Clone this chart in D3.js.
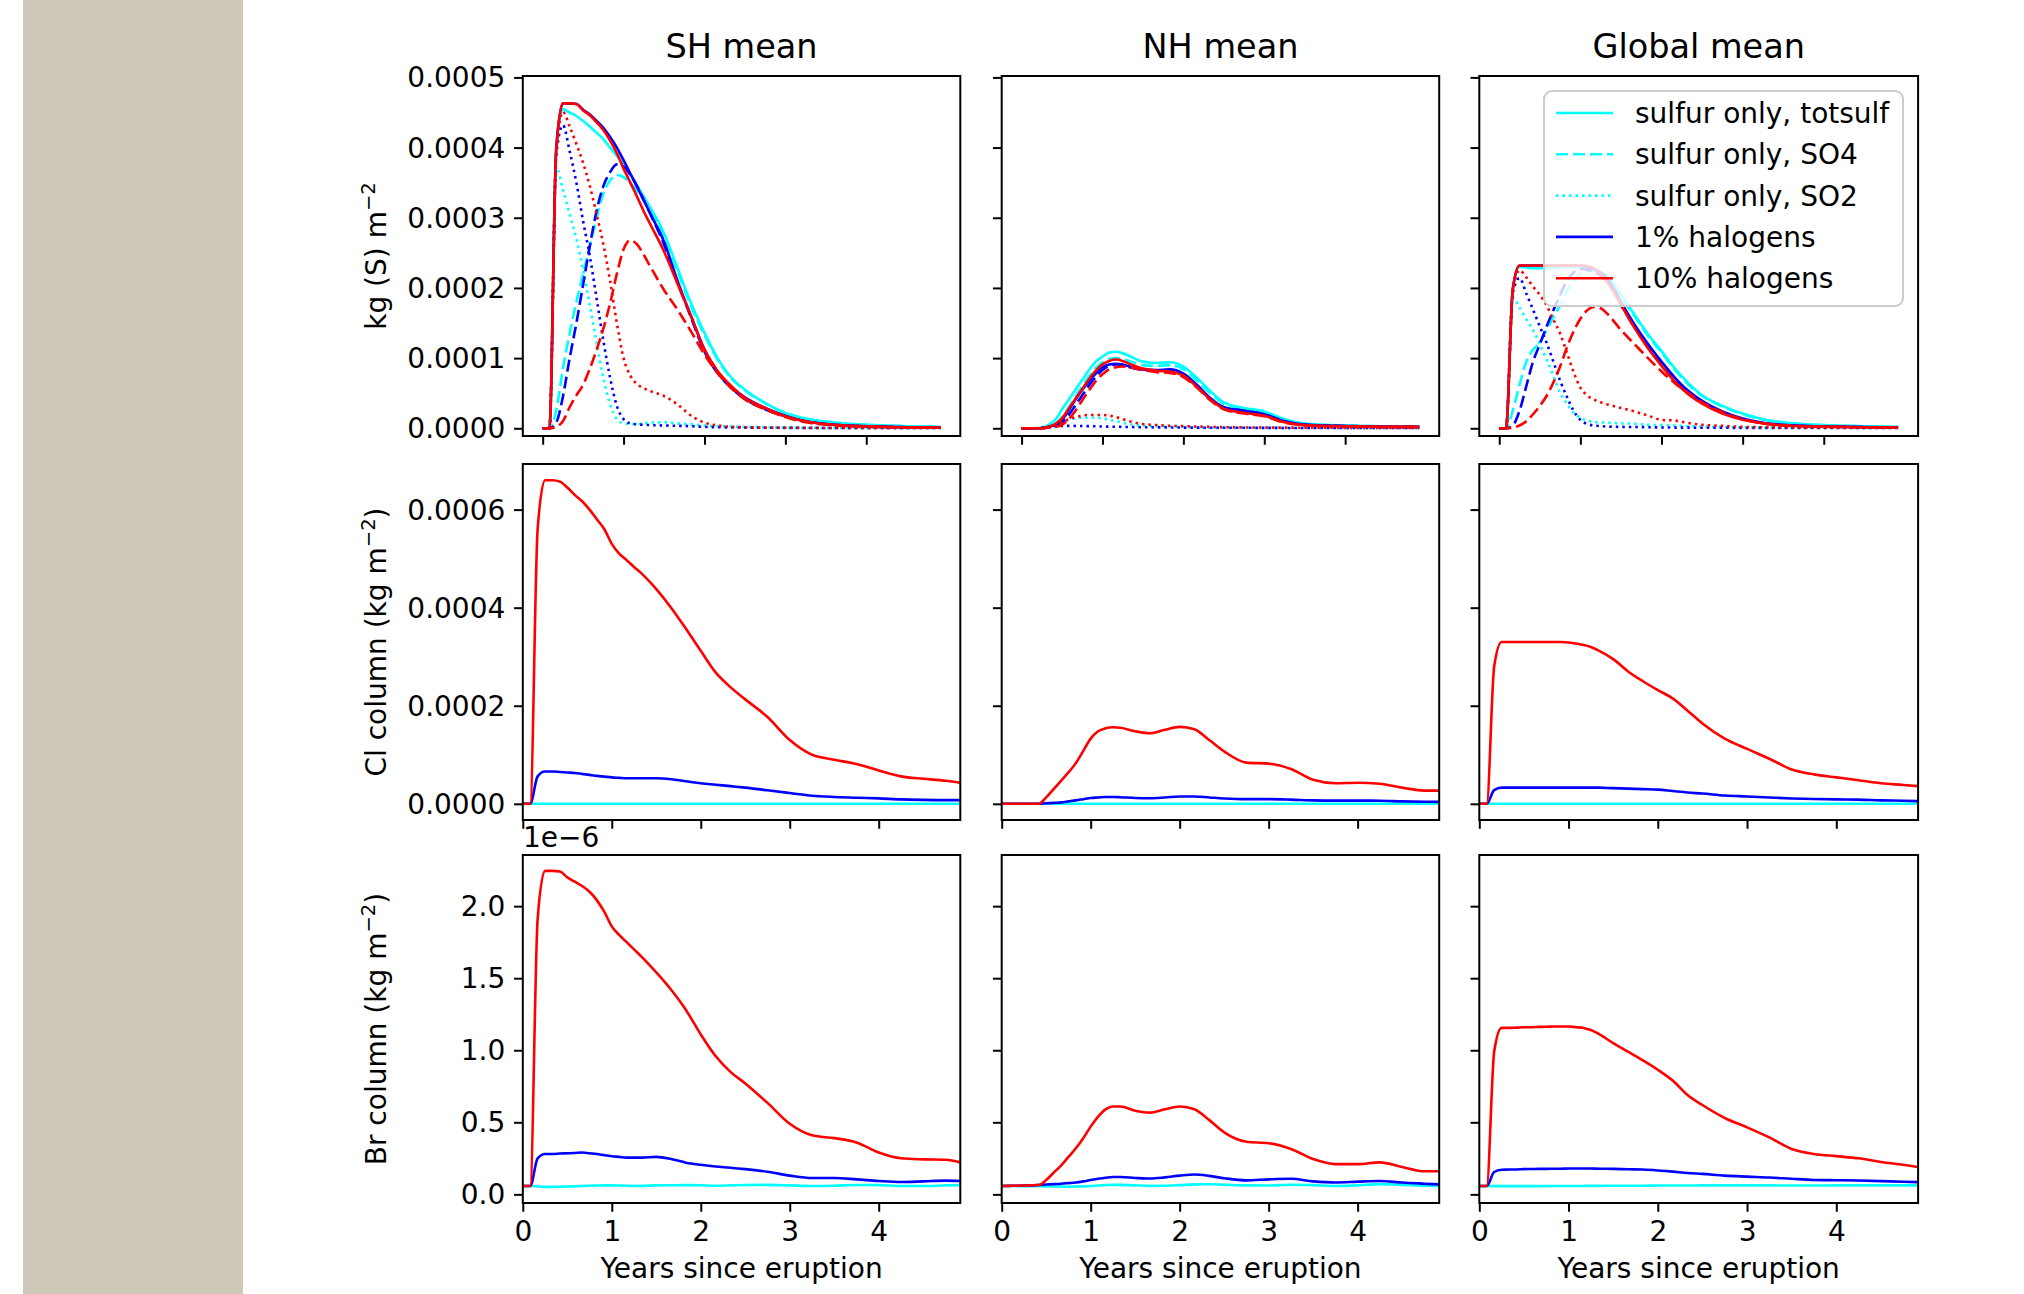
<!DOCTYPE html>
<html>
<head>
<meta charset="utf-8">
<script src="https://cdn.jsdelivr.net/npm/d3@7"></script>
<style>
  body { margin: 0; background: #fff; }
  text { font-family: "DejaVu Sans", sans-serif; fill: #000; }
</style>
</head>
<body>
<svg id="chart" width="2024" height="1294"></svg>
<script>
const MONTHS = [0,1,2,3,4,5,6,7,8,9,10,11,12,13,14,15,16,18,20,22,24,26,28,30,33,36,39,42,45,48,51,54,57,59];

// ---- row 1: sulfur burden, units of 1e-4 kg(S) m^-2 ----
// suffix 0 = sulfur only, 1 = 1% halogens, 10 = 10% halogens
const shTot0  = [0,0,3.95,4.55,4.50,4.45,4.38,4.30,4.21,4.12,4.00,3.88,3.76,3.62,3.46,3.30,3.14,2.78,2.28,1.78,1.36,0.99,0.72,0.55,0.36,0.22,0.14,0.095,0.066,0.05,0.04,0.03,0.025,0.02];
const shSo4_0 = [0,0,0.25,0.85,1.35,1.80,2.20,2.60,3.00,3.35,3.53,3.61,3.58,3.49,3.38,3.25,3.10,2.73,2.24,1.74,1.33,0.97,0.71,0.54,0.36,0.22,0.14,0.095,0.065,0.05,0.04,0.03,0.025,0.02];
const shSo2_0 = [0,0,3.73,3.40,3.05,2.70,2.25,1.75,1.22,0.72,0.34,0.13,0.07,0.06,0.06,0.07,0.08,0.085,0.07,0.055,0.04,0.03,0.025,0.02,0.015,0.01,0.008,0.006,0.005,0.005,0.005,0.005,0.005,0.005];
const shTot1  = [0,0,3.96,4.63,4.63,4.62,4.54,4.47,4.38,4.28,4.15,4.00,3.82,3.63,3.44,3.25,3.05,2.66,2.10,1.60,1.12,0.80,0.59,0.44,0.29,0.18,0.10,0.06,0.04,0.03,0.02,0.015,0.01,0.01];
const shSo4_1 = [0,0,0.08,0.45,1.00,1.50,2.05,2.60,3.10,3.45,3.65,3.76,3.73,3.61,3.45,3.25,3.05,2.62,2.08,1.58,1.09,0.78,0.57,0.42,0.27,0.17,0.10,0.06,0.04,0.03,0.02,0.015,0.01,0.01];
const shSo2_1 = [0,0,3.88,4.32,3.95,3.50,2.95,2.45,1.85,1.25,0.72,0.32,0.13,0.07,0.055,0.05,0.045,0.04,0.035,0.03,0.02,0.015,0.012,0.01,0.008,0.006,0.005,0.005,0.005,0.005,0.005,0.005,0.005,0.005];
const shTot10  = [0,0,3.96,4.63,4.63,4.62,4.53,4.46,4.36,4.25,4.10,3.92,3.70,3.50,3.30,3.09,2.90,2.52,2.06,1.60,1.12,0.81,0.60,0.43,0.29,0.17,0.10,0.06,0.04,0.03,0.02,0.015,0.01,0.01];
const shSo4_10 = [0,0,0.02,0.10,0.30,0.47,0.62,0.85,1.12,1.42,1.78,2.20,2.55,2.68,2.62,2.47,2.30,1.97,1.69,1.38,1.05,0.78,0.57,0.41,0.27,0.16,0.085,0.05,0.03,0.02,0.015,0.01,0.01,0.01];
const shSo2_10 = [0,0,3.90,4.51,4.30,4.05,3.78,3.45,3.05,2.62,2.10,1.50,1.00,0.75,0.63,0.57,0.53,0.46,0.34,0.18,0.08,0.04,0.02,0.015,0.01,0.008,0.006,0.005,0.005,0.005,0.005,0.005,0.005,0.005];

const nhTot0  = [0,0,0,0.01,0.05,0.12,0.27,0.41,0.55,0.69,0.83,0.95,1.02,1.08,1.09,1.07,1.03,0.95,0.93,0.94,0.88,0.72,0.53,0.37,0.29,0.24,0.13,0.066,0.048,0.038,0.033,0.028,0.024,0.02];
const nhSo4_0 = [0,0,0,0,0.02,0.06,0.16,0.30,0.45,0.60,0.74,0.86,0.94,0.99,1.00,0.99,0.96,0.90,0.89,0.90,0.84,0.68,0.50,0.35,0.28,0.23,0.125,0.063,0.046,0.037,0.032,0.027,0.023,0.02];
const nhSo2_0 = [0,0,0,0.01,0.03,0.06,0.09,0.12,0.14,0.15,0.15,0.15,0.14,0.12,0.10,0.08,0.06,0.04,0.03,0.025,0.02,0.015,0.012,0.01,0.008,0.006,0.005,0.005,0.005,0.005,0.005,0.005,0.005,0.005];
const nhTot1  = [0,0,0,0,0.02,0.05,0.12,0.26,0.41,0.55,0.67,0.78,0.87,0.91,0.92,0.91,0.88,0.84,0.83,0.84,0.78,0.62,0.43,0.30,0.25,0.20,0.10,0.052,0.04,0.033,0.028,0.024,0.02,0.02];
const nhSo4_1 = [0,0,0,0,0.01,0.03,0.08,0.19,0.33,0.47,0.61,0.73,0.83,0.89,0.91,0.90,0.87,0.83,0.82,0.83,0.77,0.61,0.42,0.30,0.25,0.20,0.10,0.05,0.04,0.033,0.028,0.024,0.02,0.02];
const nhSo2_1 = [0,0,0,0.01,0.02,0.03,0.035,0.035,0.033,0.032,0.03,0.028,0.025,0.023,0.022,0.02,0.018,0.015,0.013,0.012,0.01,0.009,0.008,0.008,0.007,0.006,0.005,0.005,0.005,0.005,0.005,0.005,0.005,0.005];
const nhTot10  = [0,0,0,0,0.02,0.06,0.14,0.28,0.42,0.56,0.70,0.82,0.91,0.96,0.98,0.96,0.92,0.85,0.82,0.81,0.75,0.59,0.41,0.28,0.22,0.18,0.085,0.045,0.032,0.03,0.025,0.02,0.02,0.02];
const nhSo4_10 = [0,0,0,0,0.01,0.02,0.05,0.13,0.25,0.40,0.54,0.67,0.77,0.84,0.87,0.88,0.87,0.83,0.80,0.79,0.73,0.58,0.40,0.27,0.21,0.17,0.08,0.043,0.031,0.028,0.024,0.02,0.02,0.02];
const nhSo2_10 = [0,0,0,0,0.02,0.05,0.09,0.13,0.16,0.18,0.19,0.19,0.19,0.18,0.16,0.13,0.10,0.06,0.045,0.035,0.03,0.025,0.02,0.015,0.012,0.01,0.009,0.008,0.007,0.006,0.005,0.005,0.005,0.005];

const glTot0  = [0,0,1.98,2.30,2.29,2.28,2.28,2.28,2.28,2.29,2.30,2.30,2.30,2.29,2.27,2.23,2.17,1.90,1.62,1.34,1.10,0.85,0.64,0.47,0.32,0.21,0.13,0.085,0.06,0.045,0.035,0.03,0.025,0.02];
const glSo4_0 = [0,0,0.25,0.62,0.95,1.12,1.22,1.40,1.58,1.75,1.95,2.10,2.20,2.24,2.25,2.22,2.16,1.88,1.60,1.32,1.08,0.83,0.62,0.46,0.31,0.20,0.125,0.08,0.056,0.043,0.034,0.028,0.023,0.02];
const glSo2_0 = [0,0,1.86,1.72,1.55,1.40,1.20,0.98,0.75,0.50,0.35,0.22,0.15,0.11,0.09,0.085,0.08,0.07,0.065,0.05,0.045,0.04,0.03,0.025,0.02,0.015,0.012,0.01,0.009,0.008,0.007,0.006,0.005,0.005];
const glTot1  = [0,0,1.98,2.32,2.32,2.32,2.32,2.32,2.32,2.32,2.32,2.32,2.32,2.30,2.27,2.22,2.13,1.80,1.48,1.20,0.95,0.72,0.53,0.39,0.24,0.14,0.08,0.05,0.035,0.027,0.022,0.018,0.015,0.013];
const glSo4_1 = [0,0,0.04,0.25,0.60,0.95,1.20,1.45,1.68,1.90,2.10,2.22,2.27,2.26,2.23,2.18,2.10,1.76,1.44,1.18,0.92,0.70,0.51,0.37,0.23,0.13,0.075,0.045,0.032,0.025,0.02,0.016,0.013,0.012];
const glSo2_1 = [0,0,1.93,2.14,1.92,1.69,1.45,1.22,0.95,0.68,0.45,0.25,0.12,0.06,0.04,0.03,0.025,0.02,0.018,0.015,0.012,0.01,0.009,0.008,0.007,0.006,0.005,0.005,0.005,0.005,0.005,0.005,0.005,0.005];
const glTot10  = [0,0,1.98,2.32,2.32,2.32,2.32,2.32,2.32,2.32,2.32,2.32,2.32,2.31,2.28,2.20,2.08,1.76,1.43,1.14,0.89,0.66,0.48,0.35,0.21,0.12,0.07,0.04,0.03,0.025,0.02,0.015,0.012,0.01];
const glSo4_10 = [0,0,0.01,0.04,0.10,0.20,0.32,0.46,0.65,0.88,1.15,1.38,1.56,1.68,1.73,1.71,1.63,1.40,1.20,1.00,0.81,0.64,0.50,0.37,0.23,0.13,0.07,0.045,0.03,0.022,0.018,0.014,0.012,0.01];
const glSo2_10 = [0,0,1.95,2.25,2.15,2.02,1.90,1.75,1.55,1.35,1.08,0.80,0.58,0.47,0.41,0.37,0.34,0.29,0.24,0.18,0.12,0.11,0.075,0.05,0.035,0.02,0.015,0.012,0.01,0.009,0.008,0.008,0.008,0.008];

// ---- row 2: Cl column, units of 1e-4 kg m^-2 ----
const shCl0  = [0,0,0,0,0,0,0,0,0,0,0,0,0,0,0,0,0,0,0,0,0,0,0,0,0,0,0,0,0,0,0,0,0,0];
const shCl1  = [0,0,0.56,0.66,0.66,0.65,0.64,0.63,0.61,0.59,0.57,0.555,0.54,0.53,0.52,0.52,0.52,0.52,0.50,0.46,0.42,0.39,0.36,0.33,0.275,0.22,0.165,0.14,0.125,0.11,0.09,0.08,0.075,0.075];
const shCl10 = [0,0,5.6,6.6,6.6,6.57,6.45,6.3,6.17,6.0,5.8,5.6,5.3,5.1,4.97,4.83,4.70,4.38,4.0,3.57,3.12,2.68,2.38,2.13,1.77,1.30,1.0,0.90,0.81,0.68,0.56,0.51,0.47,0.43];
const nhCl0  = [0,0,0,0,0,0,0,0,0,0,0,0,0,0,0,0,0,0,0,0,0,0,0,0,0,0,0,0,0,0,0,0,0,0];
const nhCl1  = [0,0,0,0,0,0,0.01,0.02,0.03,0.05,0.07,0.095,0.12,0.13,0.14,0.14,0.135,0.12,0.115,0.13,0.15,0.15,0.13,0.11,0.095,0.095,0.085,0.07,0.065,0.065,0.063,0.05,0.043,0.04];
const nhCl10 = [0,0,0,0,0,0,0.13,0.30,0.47,0.64,0.83,1.08,1.33,1.48,1.54,1.56,1.55,1.48,1.44,1.51,1.57,1.52,1.30,1.07,0.84,0.82,0.71,0.49,0.42,0.43,0.41,0.33,0.27,0.27];
const glCl0  = [0,0,0,0,0,0,0,0,0,0,0,0,0,0,0,0,0,0,0,0,0,0,0,0,0,0,0,0,0,0,0,0,0,0];
const glCl1  = [0,0,0.28,0.33,0.33,0.33,0.33,0.33,0.33,0.33,0.33,0.33,0.33,0.33,0.33,0.33,0.33,0.32,0.31,0.30,0.29,0.26,0.23,0.21,0.17,0.15,0.13,0.11,0.097,0.09,0.085,0.07,0.063,0.055];
const glCl10 = [0,0,2.8,3.30,3.30,3.30,3.30,3.30,3.30,3.30,3.30,3.30,3.29,3.27,3.24,3.20,3.13,2.95,2.70,2.50,2.32,2.15,1.90,1.64,1.33,1.12,0.92,0.70,0.60,0.54,0.48,0.42,0.385,0.36];

// ---- row 3: Br column, units of 1e-6 kg m^-2 ----
const shBr0  = [0.058,0.058,0.055,0.052,0.052,0.053,0.054,0.056,0.058,0.06,0.061,0.062,0.062,0.061,0.06,0.058,0.059,0.062,0.063,0.064,0.063,0.06,0.062,0.065,0.066,0.062,0.058,0.06,0.065,0.064,0.058,0.058,0.062,0.064];
const shBr1  = [0.058,0.058,0.25,0.28,0.28,0.283,0.285,0.287,0.29,0.285,0.28,0.272,0.265,0.26,0.255,0.255,0.255,0.26,0.245,0.22,0.205,0.193,0.185,0.175,0.157,0.13,0.113,0.113,0.104,0.093,0.086,0.09,0.095,0.093];
const shBr10 = [0.058,0.058,1.91,2.245,2.245,2.24,2.20,2.17,2.14,2.10,2.04,1.96,1.86,1.80,1.75,1.70,1.65,1.54,1.42,1.28,1.11,0.96,0.85,0.77,0.635,0.49,0.41,0.39,0.36,0.29,0.25,0.243,0.24,0.222];
const nhBr0  = [0.058,0.058,0.057,0.057,0.056,0.056,0.055,0.054,0.054,0.053,0.054,0.056,0.058,0.061,0.064,0.066,0.066,0.062,0.059,0.06,0.064,0.069,0.07,0.067,0.062,0.061,0.067,0.064,0.058,0.062,0.071,0.066,0.06,0.058];
const nhBr1  = [0.058,0.059,0.06,0.061,0.062,0.065,0.068,0.071,0.074,0.078,0.082,0.09,0.10,0.108,0.115,0.12,0.12,0.114,0.11,0.118,0.13,0.138,0.128,0.112,0.097,0.104,0.108,0.09,0.082,0.088,0.093,0.082,0.074,0.069];
const nhBr10 = [0.058,0.059,0.06,0.061,0.063,0.065,0.10,0.15,0.20,0.26,0.32,0.39,0.47,0.54,0.59,0.61,0.61,0.58,0.567,0.59,0.61,0.59,0.515,0.43,0.365,0.355,0.315,0.245,0.21,0.21,0.222,0.19,0.16,0.16];
const glBr0  = [0.058,0.058,0.057,0.057,0.057,0.057,0.057,0.057,0.057,0.057,0.058,0.058,0.058,0.058,0.058,0.059,0.059,0.06,0.06,0.06,0.061,0.061,0.061,0.062,0.062,0.062,0.062,0.061,0.061,0.062,0.062,0.062,0.062,0.062];
const glBr1  = [0.058,0.058,0.155,0.171,0.172,0.173,0.175,0.176,0.177,0.177,0.178,0.178,0.179,0.179,0.179,0.179,0.178,0.177,0.174,0.172,0.166,0.158,0.148,0.142,0.13,0.123,0.117,0.108,0.10,0.098,0.096,0.092,0.087,0.085];
const glBr10 = [0.058,0.058,0.99,1.155,1.155,1.157,1.16,1.16,1.162,1.163,1.165,1.165,1.165,1.16,1.155,1.14,1.115,1.05,0.99,0.93,0.865,0.79,0.69,0.62,0.53,0.465,0.395,0.315,0.28,0.265,0.25,0.225,0.205,0.19];

const TITLES = ["SH mean", "NH mean", "Global mean"];
const LEGEND_LABELS = ["sulfur only, totsulf", "sulfur only, SO4", "sulfur only, SO2", "1% halogens", "10% halogens"];
const X_TICKS = [0, 1, 2, 3, 4];

// ---- styling / layout ----
const COLORS = { s: "#00ffff", h1: "#0000ff", h10: "#ff0000" };
const DASH = { solid: null, dash: "12,5", dot: "2.5,4" };
const LW = 2.6;
const FS = 28;
const colX = [[522.8, 960.3], [1001.7, 1439.2], [1479.3, 1918.1]];
const rowY = [[76, 436], [464, 820], [855, 1203]];

const sulfurSeries = [
  [[shTot0, shSo4_0, shSo2_0], [shTot1, shSo4_1, shSo2_1], [shTot10, shSo4_10, shSo2_10]],
  [[nhTot0, nhSo4_0, nhSo2_0], [nhTot1, nhSo4_1, nhSo2_1], [nhTot10, nhSo4_10, nhSo2_10]],
  [[glTot0, glSo4_0, glSo2_0], [glTot1, glSo4_1, glSo2_1], [glTot10, glSo4_10, glSo2_10]]
];
const clSeries = [[shCl0, shCl1, shCl10], [nhCl0, nhCl1, nhCl10], [glCl0, glCl1, glCl10]];
const brSeries = [[shBr0, shBr1, shBr10], [nhBr0, nhBr1, nhBr10], [glBr0, glBr1, glBr10]];
const expColors = [COLORS.s, COLORS.h1, COLORS.h10];
const styles = ["solid", "dash", "dot"];

const rows = [
  {
    yDomain: [-0.11, 5.02], yTicks: [0, 1, 2, 3, 4, 5],
    fmt: (v) => (v * 1e-4).toFixed(4),
    xDomain: [-0.2458, 5.1625],
    label: ["kg (S) m", "\u22122", ""],
    lines: (c) => {
      const out = [];
      sulfurSeries[c].forEach((exp, e) =>
        exp.forEach((vals, k) => out.push({ vals, color: expColors[e], style: styles[k] }))
      );
      return out;
    },
  },
  {
    yDomain: [-0.33, 6.93], yTicks: [0, 2, 4, 6],
    fmt: (v) => (v * 1e-4).toFixed(4),
    xDomain: [0, 59 / 12],
    label: ["Cl column (kg m", "\u22122", ")"],
    lines: (c) => clSeries[c].map((vals, e) => ({ vals, color: expColors[e], style: "solid" })),
  },
  {
    yDomain: [-0.06, 2.355], yTicks: [0, 0.5, 1, 1.5, 2],
    fmt: (v) => v.toFixed(1),
    xDomain: [0, 59 / 12],
    label: ["Br column (kg m", "\u22122", ")"],
    lines: (c) => brSeries[c].map((vals, e) => ({ vals, color: expColors[e], style: "solid" })),
  },
];

const svg = d3.select("#chart");
svg.append("rect").attr("x", 23).attr("y", 0).attr("width", 220).attr("height", 1294).attr("fill", "#cfc8b9");

rows.forEach((row, r) => {
  const [y0, y1] = rowY[r];
  colX.forEach(([x0, x1], c) => {
    const x = d3.scaleLinear().domain(row.xDomain).range([x0, x1]);
    const y = d3.scaleLinear().domain(row.yDomain).range([y1, y0]);
    const g = svg.append("g");

    // lines
    const line = (vals) =>
      d3.line()
        .x((d, i) => x(MONTHS[i] / 12))
        .y((d) => y(d))
        .curve(d3.curveMonotoneX)(vals);
    row.lines(c).forEach((s) => {
      g.append("path")
        .attr("d", line(s.vals))
        .attr("fill", "none")
        .attr("stroke", s.color)
        .attr("stroke-width", LW)
        .attr("stroke-dasharray", DASH[s.style])
        .attr("stroke-linejoin", "round");
    });

    // y axis
    const yAxis = d3.axisLeft(y).tickValues(row.yTicks).tickSize(8.75).tickPadding(8.75)
      .tickFormat(c === 0 ? row.fmt : "");
    const ya = g.append("g").attr("transform", `translate(${x0},0)`).call(yAxis);
    ya.select(".domain").remove();
    ya.selectAll(".tick line").attr("stroke", "#000").attr("stroke-width", 2);
    ya.selectAll(".tick text").attr("font-size", FS).attr("dy", "0.34em").attr("fill", "#000");

    // x axis
    const xAxis = d3.axisBottom(x).tickValues(X_TICKS).tickSize(8.75).tickPadding(8.75)
      .tickFormat(r === 2 ? d3.format("d") : "");
    const xa = g.append("g").attr("transform", `translate(0,${y1})`).call(xAxis);
    xa.select(".domain").remove();
    xa.selectAll(".tick line").attr("stroke", "#000").attr("stroke-width", 2);
    xa.selectAll(".tick text").attr("font-size", FS).attr("dy", "0.74em").attr("fill", "#000");

    // frame
    g.append("rect")
      .attr("x", x0).attr("y", y0).attr("width", x1 - x0).attr("height", y1 - y0)
      .attr("fill", "none").attr("stroke", "#000").attr("stroke-width", 2);

    if (r === 0) {
      svg.append("text").attr("x", (x0 + x1) / 2).attr("y", 58)
        .attr("text-anchor", "middle").attr("font-size", 33.5).text(TITLES[c]);
    }
    if (r === 2) {
      svg.append("text").attr("x", (x0 + x1) / 2).attr("y", 1278)
        .attr("text-anchor", "middle").attr("font-size", FS).text("Years since eruption");
    }
    if (c === 0) {
      const t = svg.append("text")
        .attr("transform", `translate(386,${(y0 + y1) / 2}) rotate(-90)`)
        .attr("text-anchor", "middle").attr("font-size", FS);
      t.append("tspan").text(row.label[0]);
      t.append("tspan").attr("font-size", 19.6).attr("dy", -11).text(row.label[1]);
      t.append("tspan").attr("dy", 11).text(row.label[2]);
    }
  });
});

// offset text for Br row
svg.append("text").attr("x", 523).attr("y", 847).attr("font-size", FS).text("1e\u22126");

// legend in Global mean, top row
const leg = svg.append("g");
leg.append("rect").attr("x", 1544).attr("y", 91).attr("width", 359).attr("height", 215)
  .attr("rx", 8).attr("fill", "#fff").attr("fill-opacity", 0.8)
  .attr("stroke", "#cccccc").attr("stroke-width", 2);
const legendItems = [
  { color: COLORS.s, style: "solid" },
  { color: COLORS.s, style: "dash" },
  { color: COLORS.s, style: "dot" },
  { color: COLORS.h1, style: "solid" },
  { color: COLORS.h10, style: "solid" },
];
legendItems.forEach((it, i) => {
  const cy = 113 + i * 41.3;
  leg.append("line").attr("x1", 1556).attr("x2", 1613).attr("y1", cy).attr("y2", cy)
    .attr("stroke", it.color).attr("stroke-width", LW).attr("stroke-dasharray", DASH[it.style]);
  leg.append("text").attr("x", 1635).attr("y", cy + 10).attr("font-size", FS).text(LEGEND_LABELS[i]);
});
</script>
</body>
</html>
